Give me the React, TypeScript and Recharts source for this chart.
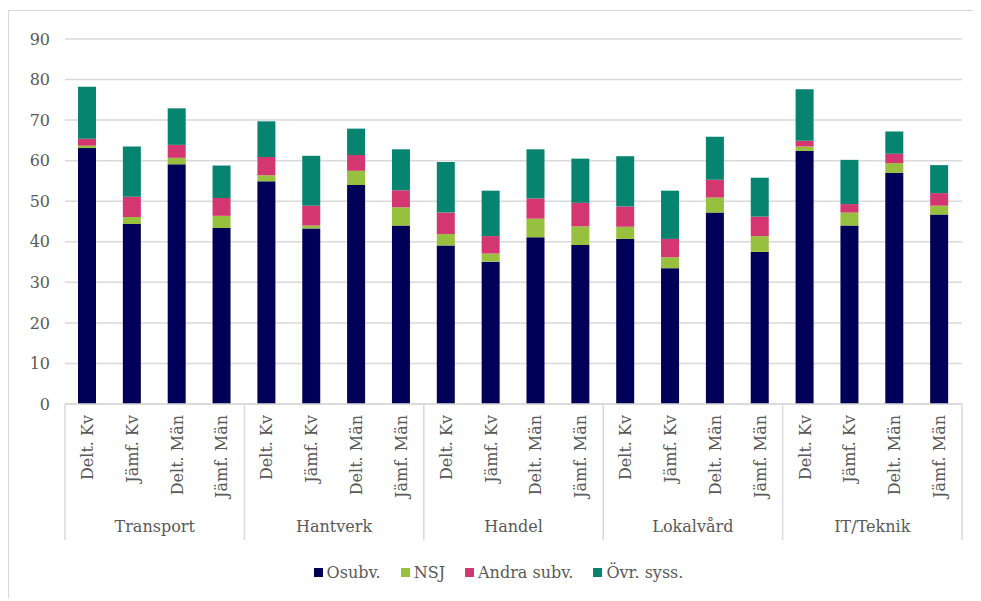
import { BarChart, Bar, XAxis, YAxis, CartesianGrid, Legend } from "recharts";

const groups = ["Transport", "Hantverk", "Handel", "Lokalvård", "IT/Teknik"];
const subLabels = ["Delt. Kv", "Jämf. Kv", "Delt. Män", "Jämf. Män"];

// one value per bar, groups in order, 4 bars per group
const osubv = [
  63.1, 44.4, 59.1, 43.4,
  54.9, 43.3, 54.0, 44.0,
  39.1, 35.1, 41.1, 39.2,
  40.7, 33.5, 47.2, 37.5,
  62.4, 44.0, 57.0, 46.7,
];
const nsj = [
  0.6, 1.7, 1.6, 3.0,
  1.5, 0.7, 3.5, 4.5,
  2.8, 2.0, 4.6, 4.6,
  3.0, 2.7, 3.7, 3.9,
  1.1, 3.2, 2.4, 2.2,
];
const andraSubv = [
  1.7, 5.0, 3.2, 4.4,
  4.5, 4.9, 3.9, 4.2,
  5.3, 4.3, 5.0, 5.8,
  5.0, 4.5, 4.4, 4.8,
  1.4, 2.1, 2.3, 3.1,
];
const ovrSyss = [
  12.8, 12.4, 9.0, 8.0,
  8.8, 12.3, 6.5, 10.1,
  12.5, 11.2, 12.1, 10.9,
  12.4, 11.9, 10.6, 9.6,
  12.7, 10.9, 5.5, 6.9,
];
const yTicks = [0, 10, 20, 30, 40, 50, 60, 70, 80, 90];

const series = [
  { key: "osubv", name: "Osubv.", color: "#000058" },
  { key: "nsj", name: "NSJ", color: "#96C03D" },
  { key: "andra", name: "Andra subv.", color: "#D43670" },
  { key: "ovr", name: "Övr. syss.", color: "#068470" },
];

const data = osubv.map((v, i) => ({
  id: `${groups[Math.floor(i / 4)]}-${i}`,
  sub: subLabels[i % 4],
  group: groups[Math.floor(i / 4)],
  osubv: v,
  nsj: nsj[i],
  andra: andraSubv[i],
  ovr: ovrSyss[i],
}));

const FONT = "'DejaVu Serif', serif";
const TEXT = "#595959";
const LINE = "#d9d9d9";

const CHART_W = 970;
const CHART_H = 588;
const MARGIN = { top: 28, right: 17, bottom: 11, left: 0 };
const Y_W = 56;
const PLOT_W = CHART_W - MARGIN.left - MARGIN.right - Y_W;

// eslint-disable-next-line @typescript-eslint/no-explicit-any
function CategoryTick({ x, y, payload, index }: any) {
  const step = PLOT_W / data.length;
  const item = data[index];
  return (
    <g>
      <text
        x={x}
        y={y + 11}
        transform={`rotate(-90, ${x}, ${y + 11})`}
        textAnchor="end"
        dominantBaseline="central"
        fill={TEXT}
        fontSize={16}
        fontFamily={FONT}
      >
        {item ? item.sub : payload.value}
      </text>
      {index % 4 === 0 && (
        <line x1={x - step / 2} x2={x - step / 2} y1={y} y2={y + 136} stroke={LINE} strokeWidth={1.5} />
      )}
      {index === data.length - 1 && (
        <line x1={x + step / 2} x2={x + step / 2} y1={y} y2={y + 136} stroke={LINE} strokeWidth={1.5} />
      )}
      {index % 4 === 1 && item && (
        <text
          x={x + step / 2}
          y={y + 128}
          textAnchor="middle"
          fill={TEXT}
          fontSize={16}
          fontFamily={FONT}
        >
          {item.group}
        </text>
      )}
    </g>
  );
}

function ChartLegend() {
  return (
    <div
      style={{
        height: 30,
        display: "flex",
        justifyContent: "center",
        alignItems: "center",
        gap: 20,
        paddingLeft: 26,
        fontFamily: FONT,
        fontSize: 16,
        color: TEXT,
      }}
    >
      {series.map((s) => (
        <span key={s.key} style={{ display: "flex", alignItems: "center", gap: 4 }}>
          <span style={{ display: "inline-block", width: 9, height: 9, background: s.color }} />
          {s.name}
        </span>
      ))}
    </div>
  );
}

export default function App() {
  return (
    <div
      style={{
        marginTop: 2,
        width: 973,
        height: CHART_H,
        borderTop: `1px solid ${LINE}`,
        borderLeft: `1px solid ${LINE}`,
        background: "#fff",
        boxSizing: "border-box",
      }}
    >
      <BarChart width={CHART_W} height={CHART_H - 1} data={data} margin={MARGIN} barSize={18}>
        <CartesianGrid vertical={false} stroke={LINE} strokeWidth={1.5} />
        <XAxis
          dataKey="id"
          interval={0}
          height={153}
          axisLine={{ stroke: LINE, strokeWidth: 1.5 }}
          tickLine={false}
          tickSize={0}
          tickMargin={0}
          tick={<CategoryTick />}
        />
        <YAxis
          width={Y_W}
          domain={[0, 90]}
          ticks={yTicks}
          interval={0}
          axisLine={false}
          tickLine={false}
          tickMargin={9}
          tick={{ fill: TEXT, fontSize: 16, fontFamily: FONT }}
        />
        <Legend verticalAlign="bottom" content={<ChartLegend />} />
        {series.map((s) => (
          <Bar
            key={s.key}
            dataKey={s.key}
            name={s.name}
            stackId="a"
            fill={s.color}
            isAnimationActive={false}
          />
        ))}
      </BarChart>
    </div>
  );
}
